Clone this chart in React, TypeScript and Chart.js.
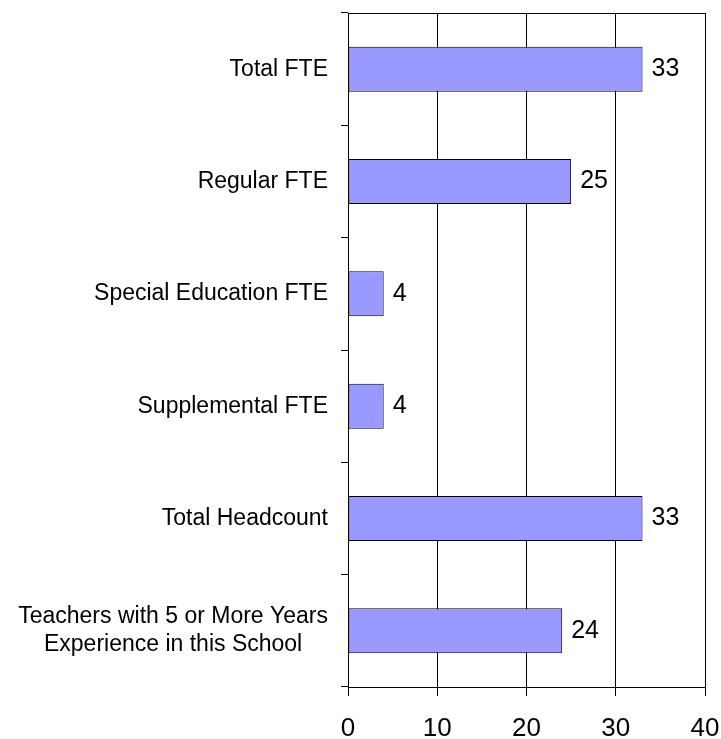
import React, { useEffect, useRef } from 'react';
import { Chart, registerables } from 'chart.js';

Chart.register(...registerables);

const categories: (string | string[])[] = [
  'Total FTE',
  'Regular FTE',
  'Special Education FTE',
  'Supplemental FTE',
  'Total Headcount',
  ['Teachers with 5 or More Years', 'Experience in this School'],
];
const values: number[] = [33, 25, 4, 4, 33, 24];
const xTickMin = 0;
const xTickMax = 40;
const xTickStep = 10;

const FONT = 'Arial, "Liberation Sans", sans-serif';

const framePlugin = {
  id: 'frameAndLabels',
  afterDraw(chart: any) {
    const { ctx, chartArea, scales } = chart;
    const y = scales.y;
    ctx.save();
    ctx.strokeStyle = '#000';
    ctx.lineWidth = 1;
    ctx.beginPath();
    ctx.moveTo(chartArea.left, Math.round(chartArea.top) + 0.5);
    ctx.lineTo(chartArea.right, Math.round(chartArea.top) + 0.5);
    ctx.stroke();

    ctx.fillStyle = '#000';
    ctx.font = `23px ${FONT}`;
    ctx.textBaseline = 'middle';
    ctx.textAlign = 'center';
    const lh = 28;
    categories.forEach((lab, i) => {
      const lines = Array.isArray(lab) ? lab : [lab];
      const widest = Math.max(...lines.map((l) => ctx.measureText(l).width));
      const cx = chartArea.left - 20 - widest / 2;
      const cy = y.getPixelForValue(i);
      lines.forEach((l, j) => ctx.fillText(l, cx, cy + (j - (lines.length - 1) / 2) * lh));
    });

    const meta = chart.getDatasetMeta(0);
    ctx.font = `25px ${FONT}`;
    ctx.textAlign = 'left';
    meta.data.forEach((bar: any, i: number) => {
      ctx.fillText(String(values[i]), bar.x + 9, bar.y);
    });
    ctx.restore();
  },
};

export default function App() {
  const ref = useRef<HTMLCanvasElement | null>(null);
  useEffect(() => {
    if (!ref.current) return;
    const chart = new Chart(ref.current, {
      type: 'bar',
      data: {
        labels: categories.map((c) => (Array.isArray(c) ? c.join(' ') : c)),
        datasets: [
          {
            data: values,
            backgroundColor: '#9999FF',
            borderColor: '#000000',
            borderWidth: 1,
            borderSkipped: false,
            barPercentage: 0.4,
            categoryPercentage: 1,
          },
        ],
      },
      options: {
        indexAxis: 'y',
        animation: false,
        responsive: true,
        maintainAspectRatio: false,
        layout: { padding: { top: 13, right: 16, left: 0, bottom: 0 } },
        plugins: { legend: { display: false }, tooltip: { enabled: false } },
        scales: {
          x: {
            type: 'linear',
            min: xTickMin,
            max: xTickMax,
            ticks: {
              stepSize: xTickStep,
              color: '#000',
              font: { family: FONT, size: 26 },
              padding: 17,
            },
            grid: { color: '#000', tickLength: 9, lineWidth: 1 },
            border: { color: '#000', width: 1 },
            afterFit: (s: any) => {
              s.height = 52;
              s.paddingRight = 0;
              s.paddingLeft = 0;
            },
          },
          y: {
            type: 'category',
            ticks: { display: false },
            grid: { drawOnChartArea: false, color: '#000', tickLength: 7, offset: true },
            border: { color: '#000', width: 1 },
            afterFit: (s: any) => {
              s.width = 348;
              s.paddingTop = 0;
              s.paddingBottom = 0;
            },
          },
        },
      },
      plugins: [framePlugin],
    });
    return () => chart.destroy();
  }, []);
  return (
    <div style={{ position: 'absolute', left: 0, top: 0, width: 721, height: 739, background: '#fff' }}>
      <canvas ref={ref} />
    </div>
  );
}
